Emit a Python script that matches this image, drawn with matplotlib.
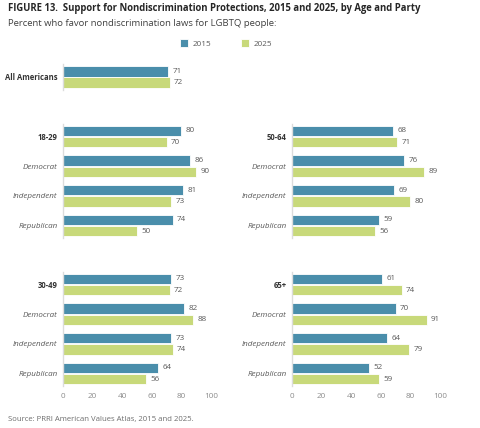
import matplotlib.pyplot as plt

plt.rcParams['font.family'] = ['Open Sans', 'DejaVu Sans']

blue = '#4a8eab'
green = '#c8d97a'
gray = '#595959'

# data
allAmericans2015 = [71]
allAmericans2025 = [72]

rowLabels = ['Democrat', 'Independent', 'Republican']

ages = ['18-29', '50-64', '30-49', '65+']
values2015 = {
    '18-29': [80, 86, 81, 74],
    '50-64': [68, 76, 69, 59],
    '30-49': [73, 82, 73, 64],
    '65+': [61, 70, 64, 52],
}
values2025 = {
    '18-29': [70, 90, 73, 50],
    '50-64': [71, 89, 80, 56],
    '30-49': [72, 88, 74, 56],
    '65+': [74, 91, 79, 59],
}
xTicks = [0, 20, 40, 60, 80, 100]

W, H = 480, 428
fig = plt.figure(figsize=(W / 100, H / 100), dpi=100)


def rect(x0, y0, x1, y1):
    return [x0 / W, 1 - y1 / H, (x1 - x0) / W, (y1 - y0) / H]


barH = 0.355
off = 0.19


def drawPanel(ax, v15, v25, labels, boldFirst=True, showTicks=False, half=0.42):
    n = len(v15)
    pos = list(range(n))
    ax.barh([p - off for p in pos], v15, height=barH, color=blue,
            edgecolor='white', linewidth=0.6)
    ax.barh([p + off for p in pos], v25, height=barH, color=green,
            edgecolor='white', linewidth=0.6)
    for p, a, b in zip(pos, v15, v25):
        ax.text(a + 3.0, p - off, str(a), va='center', ha='left',
                fontsize=5.8, color=gray)
        ax.text(b + 3.0, p + off, str(b), va='center', ha='left',
                fontsize=5.8, color=gray)
    ax.set_xlim(0, 100)
    ax.set_ylim(n - 1 + half, -half)
    ax.set_yticks(pos)
    ax.set_yticklabels(labels)
    for i, t in enumerate(ax.get_yticklabels()):
        if i == 0 and boldFirst:
            t.set_fontweight('bold')
            t.set_color('#333333')
            t.set_fontsize(5.5)
        else:
            t.set_fontstyle('italic')
            t.set_color(gray)
            t.set_fontsize(5.8)
    ax.tick_params(axis='y', length=0, pad=4)
    for s in ['top', 'right', 'bottom']:
        ax.spines[s].set_visible(False)
    ax.spines['left'].set_color('#dcdcdc')
    ax.spines['left'].set_linewidth(1.0)
    if showTicks:
        ax.set_xticks(xTicks)
        ax.tick_params(axis='x', length=0, pad=5, labelsize=5.9, labelcolor='#8c8c8c')
    else:
        ax.set_xticks([])


axAll = fig.add_axes(rect(63, 64, 211, 90))
drawPanel(axAll, allAmericans2015, allAmericans2025, ['All Americans'], half=0.44)

panelRects = {
    '18-29': rect(63, 124, 211, 238),
    '50-64': rect(292, 124, 440, 238),
    '30-49': rect(63, 272, 211, 386),
    '65+': rect(292, 272, 440, 386),
}
for age in ages:
    ax = fig.add_axes(panelRects[age])
    drawPanel(ax, values2015[age], values2025[age], [age] + rowLabels,
              showTicks=age in ('30-49', '65+'))
    if age == '18-29':
        h15 = ax.containers[0]
        h25 = ax.containers[1]

fig.text(8 / W, 1 - 8 / H,
         'FIGURE 13.  Support for Nondiscrimination Protections, 2015 and 2025, by Age and Party',
         fontsize=6.85, fontweight='bold', color='#262626', va='center', ha='left')
fig.text(8 / W, 1 - 24 / H, 'Percent who favor nondiscrimination laws for LGBTQ people:',
         fontsize=6.8, color='#404040', va='center', ha='left')
fig.text(8 / W, 1 - 419 / H, 'Source: PRRI American Values Atlas, 2015 and 2025.',
         fontsize=5.6, color='#6e6e6e', va='center', ha='left')

leg = fig.legend([h15, h25], ['2015', '2025'], loc='center', ncol=2,
                 bbox_to_anchor=(226 / W, 1 - 43.5 / H), frameon=False,
                 fontsize=5.9, handlelength=1.0, handleheight=1.0,
                 columnspacing=3.6, handletextpad=0.6)
for t in leg.get_texts():
    t.set_color(gray)

fig.savefig('out.png', dpi=100)
